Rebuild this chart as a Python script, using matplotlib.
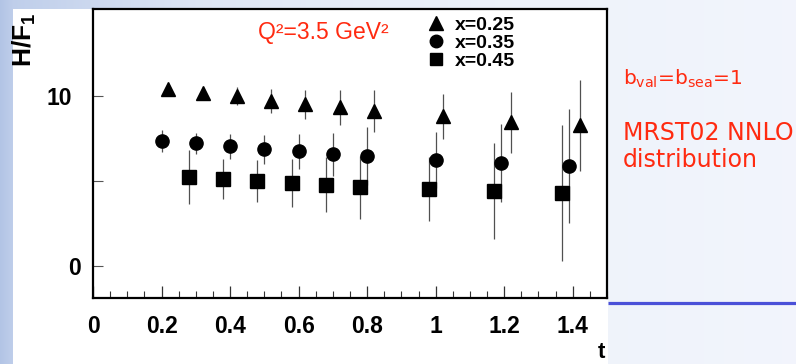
import numpy as np
import matplotlib
matplotlib.use('Agg')
import matplotlib.pyplot as plt
from matplotlib.patches import Rectangle
from matplotlib.lines import Line2D
from matplotlib.ticker import MultipleLocator, FuncFormatter
from matplotlib.font_manager import FontProperties

# ---------------- data ----------------
t_x025 = [0.22, 0.32, 0.42, 0.52, 0.62, 0.72, 0.82, 1.02, 1.22, 1.42]
h_x025 = [10.4, 10.2, 10.0, 9.72, 9.52, 9.33, 9.13, 8.82, 8.45, 8.28]
e_x025 = [0.12, 0.15, 0.55, 0.72, 0.85, 1.05, 1.25, 1.32, 1.8, 2.67]

t_x035 = [0.20, 0.30, 0.40, 0.50, 0.60, 0.70, 0.80, 1.00, 1.19, 1.39]
h_x035 = [7.36, 7.22, 7.03, 6.87, 6.74, 6.58, 6.45, 6.24, 6.05, 5.88]
e_x035 = [0.64, 0.63, 0.73, 0.85, 1.03, 1.27, 1.70, 1.67, 2.3, 3.33]

t_x045 = [0.28, 0.38, 0.48, 0.58, 0.68, 0.78, 0.98, 1.17, 1.37]
h_x045 = [5.24, 5.11, 5.01, 4.88, 4.78, 4.62, 4.53, 4.42, 4.30]
e_x045 = [1.59, 1.19, 1.23, 1.39, 1.62, 1.84, 1.90, 2.81, 4.0]

series_labels = ['x=0.25', 'x=0.35', 'x=0.45']
x_ticks = [0, 0.2, 0.4, 0.6, 0.8, 1.0, 1.2, 1.4]
y_ticks = [0, 5, 10]
y_ticklabels = ['0', '', '10']

# ---------------- figure ----------------
W, H = 796, 364
fig = plt.figure(figsize=(W / 100, H / 100), dpi=100)

def fx(px):
    return px / W

def fy(py):
    return 1 - py / H

# slide background (decorative)
bg = fig.add_axes([0, 0, 1, 1], zorder=-10)
xp = np.arange(W)
stops = [0, 13, 200, 500, 796]
cols = np.array([(0.70, 0.77, 0.90), (0.75, 0.81, 0.92), (0.87, 0.90, 0.96),
                 (0.93, 0.95, 0.98), (0.95, 0.96, 0.99)])
row = np.stack([np.interp(xp, stops, cols[:, k]) for k in range(3)], axis=-1)
img = np.repeat(row[None, :, :], H, axis=0)
bg.imshow(img, aspect='auto', extent=[0, W, H, 0])
bg.add_patch(Rectangle((13, 9), 608 - 13, H - 9, color='white', lw=0))
bg.plot([608, W], [302.7, 302.7], color='#4a50d8', lw=2.3, solid_capstyle='butt')
bg.set_xlim(0, W)
bg.set_ylim(H, 0)
bg.axis('off')

ax = fig.add_axes([fx(93), fy(298), fx(607) - fx(93), fy(9) - fy(298)])
ax.set_facecolor('white')

ekw = dict(ls='none', ecolor='#505050', elinewidth=0.9, capsize=0, mfc='black', mec='black')
ax.errorbar(t_x025, h_x025, yerr=e_x025, marker='^', ms=10.5, **ekw)
ax.errorbar(t_x035, h_x035, yerr=e_x035, marker='o', ms=9.5, **ekw)
ax.errorbar(t_x045, h_x045, yerr=e_x045, marker='s', ms=9.5, **ekw)

ax.set_xlim(0, 1.5)
ax.set_ylim(-1.882, 15.118)

for s in ax.spines.values():
    s.set_linewidth(1.6)
    s.set_color('black')

tickfont = FontProperties(family='Liberation Sans', weight='bold', size=16.5)
ax.set_xticks(x_ticks)
ax.xaxis.set_minor_locator(MultipleLocator(0.05))
ax.xaxis.set_major_formatter(FuncFormatter(lambda v, p: f'{v:g}'))
ax.tick_params(axis='x', which='major', direction='in', length=8.5, width=0.9,
               color='#333333', pad=12)
ax.tick_params(axis='x', which='minor', direction='in', length=5, width=0.8,
               color='#333333')
ax.set_yticks(y_ticks)
ax.set_yticklabels(y_ticklabels)
ax.tick_params(axis='y', which='major', direction='in', length=7, width=0.8,
               color='#555555', pad=15)
for lab in ax.get_xticklabels() + ax.get_yticklabels():
    lab.set_fontproperties(tickfont)
# the '0' label sits closer to the axis in the reference
ax.yaxis.get_major_ticks()[0].label1.set_x(0.017)

# axis titles
fig.text(fx(24), fy(13), 'H/F$_\\mathregular{1}$', rotation=90, ha='center', va='top',
         family='Liberation Sans', weight='bold', size=19)
fig.text(fx(601), fy(353), 't', ha='center', va='center',
         family='Liberation Sans', weight='bold', size=16)

# legend
handles = [Line2D([], [], ls='none', marker='^', ms=9.5, color='black'),
           Line2D([], [], ls='none', marker='o', ms=9, color='black'),
           Line2D([], [], ls='none', marker='s', ms=9, color='black')]
ax.legend(handles, series_labels, loc='upper left', bbox_to_anchor=(fx(428), fy(16)),
          bbox_transform=fig.transFigure, frameon=False, handlelength=0.8,
          handletextpad=0.6, labelspacing=0.02, borderpad=0, borderaxespad=0,
          prop=dict(family='Liberation Sans', weight='bold', size=14))

red = '#ff2a10'
fig.text(fx(258), fy(33), 'Q²=3.5 GeV²', color=red, ha='left', va='center',
         family='Liberation Sans', size=16.5)
fig.text(fx(623), fy(79), 'b$_\\mathregular{val}$=b$_\\mathregular{sea}$=1', color=red,
         ha='left', va='center', family='DejaVu Sans', size=14.5)
fig.text(fx(623), fy(133), 'MRST02 NNLO', color=red, ha='left', va='center',
         family='DejaVu Sans', size=17)
fig.text(fx(623), fy(160), 'distribution', color=red, ha='left', va='center',
         family='DejaVu Sans', size=17)

fig.savefig('out.png', dpi=100)
